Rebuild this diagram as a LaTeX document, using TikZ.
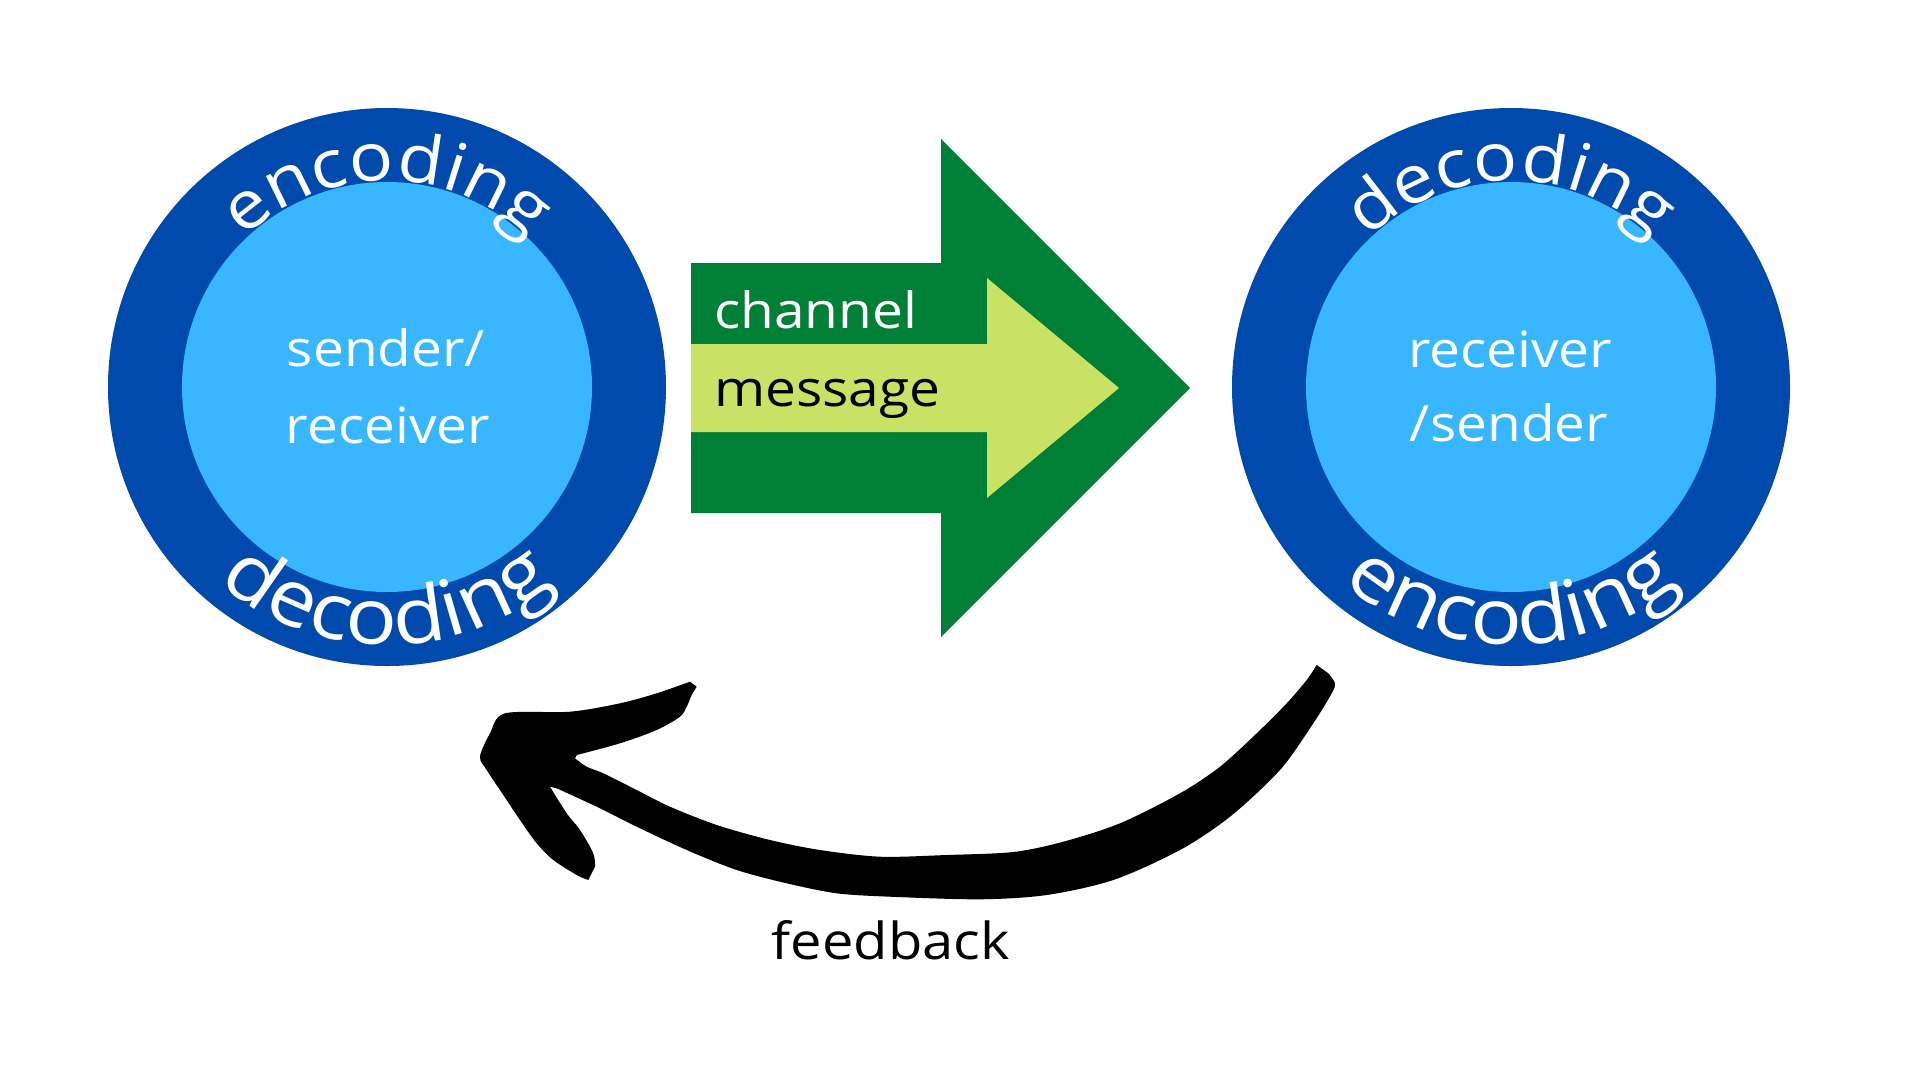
\documentclass[tikz,border=0pt]{standalone}
\usepackage{fontspec}
\setmainfont{Open Sans}
\newfontfamily\plex[FakeStretch=1.1]{Open Sans}
\usetikzlibrary{decorations.text}
\definecolor{dblue}{HTML}{004AAD}
\definecolor{lblue}{HTML}{38B6FF}
\definecolor{dgreen}{HTML}{008037}
\definecolor{lgreen}{HTML}{C9E265}
\begin{document}
\begin{tikzpicture}[x=1pt,y=1pt,
  ring/.style={circle, fill=dblue, minimum size=558pt, inner sep=0pt},
  core/.style={circle, fill=lblue, minimum size=410pt, inner sep=0pt},
  ctext/.style={text=white, font=\plex\fontsize{50}{60}\selectfont, inner sep=0pt, anchor=base},
  atext/.style={font=\plex\fontsize{50}{60}\selectfont, inner sep=0pt, anchor=base west},
  fbtext/.style={text=black, font=\plex\fontsize{51}{60}\selectfont, inner sep=0pt, anchor=base},
  toptext/.style={decorate, decoration={text along path, text align=center,
      text={|\plex\fontsize{67}{67}\selectfont\color{white}|#1}}},
  bottext/.style={decorate, decoration={text along path, text align=center,
      text={|\plex\fontsize{78}{78}\selectfont\color{white}|#1}}}
]
\useasboundingbox (0,0) rectangle (1920,-1080);
\fill[white] (0,0) rectangle (1920,-1080);

% left circle
\node[ring] (outerL) at (387,-387) {};
\node[core] (innerL) at (387,-387) {};
\path[toptext=encoding] (181,-387) arc[start angle=180, end angle=0, radius=206];
\path[bottext=decoding] (129,-387) arc[start angle=180, end angle=360, radius=258];
\node[ctext] (sL1) at (386,-366) {sender/};
\node[ctext] (sL2) at (388,-443) {receiver};

% right circle
\node[ring] (outerR) at (1511,-387) {};
\node[core] (innerR) at (1511,-387) {};
\path[toptext=decoding] (1305,-387) arc[start angle=180, end angle=0, radius=206];
\path[bottext=encoding] (1253,-387) arc[start angle=180, end angle=360, radius=258];
\node[ctext] (sR1) at (1510,-367) {receiver};
\node[ctext] (sR2) at (1509,-441) {/sender};

% channel arrow
\fill[dgreen] (691,-263) -- (941,-263) -- (941,-139) -- (1190,-388)
  -- (941,-637) -- (941,-513) -- (691,-513) -- cycle;
\fill[lgreen] (691,-344) -- (987,-344) -- (987,-278) -- (1119,-388)
  -- (987,-498) -- (987,-432) -- (691,-432) -- cycle;
\node[atext, text=white] (chan) at (714,-328) {channel};
\node[atext, text=black] (msg) at (714,-406) {message};

% feedback arrow
\coordinate (fbtail) at (1330,-680);
\coordinate (fbtip) at (480,-757);
\fill[black]
  plot[smooth, tension=.5] coordinates {(1316.7,-665) (1306.7,-680) (1286.7,-703.3)
    (1256.7,-733.3) (1220,-766.7) (1180,-793.3) (1120,-823.3) (1063.3,-841.7)
    (1013.3,-852) (946.7,-855) (880,-856.7) (820,-850) (770,-840) (716.7,-825)
    (670,-806.7) (636.7,-790) (603.3,-773.3) (586.7,-766.7) (575,-758.3)}
  -- plot[smooth, tension=.5] coordinates {(576.7,-755) (620,-743.3) (656.7,-730)
    (680,-716.7) (686.7,-706.7) (691.7,-695) (696.7,-686.7)}
  -- plot[smooth, tension=.5] coordinates {(690,-681.7) (656.7,-693.3) (620,-703.3)
    (570,-711.7) (505,-713.3) (490,-733.3) (480,-756.7) (486.7,-770) (503.3,-795)
    (520,-820) (536.7,-843.3) (553.3,-860) (576.7,-875) (588.3,-880)}
  -- plot[smooth, tension=.5] coordinates {(595,-866.7) (593.3,-853.3) (580,-830)
    (566.7,-813.3) (550,-786.7)}
  -- plot[smooth, tension=.5] coordinates {(556.7,-788.3) (596.7,-806.7)
    (636.7,-826.7) (686.7,-850) (736.7,-870) (786.7,-883.3) (836.7,-893.3)
    (890,-896.7) (980,-899.3) (1046.7,-895) (1113.3,-880) (1180,-850)
    (1230,-816.7) (1280,-770) (1313.3,-723.3) (1331.7,-693.3) (1335,-683.3)
    (1328.3,-673.3)} -- cycle;
\node[fbtext] (fb) at (891,-959) {feedback};
\end{tikzpicture}
\end{document}
